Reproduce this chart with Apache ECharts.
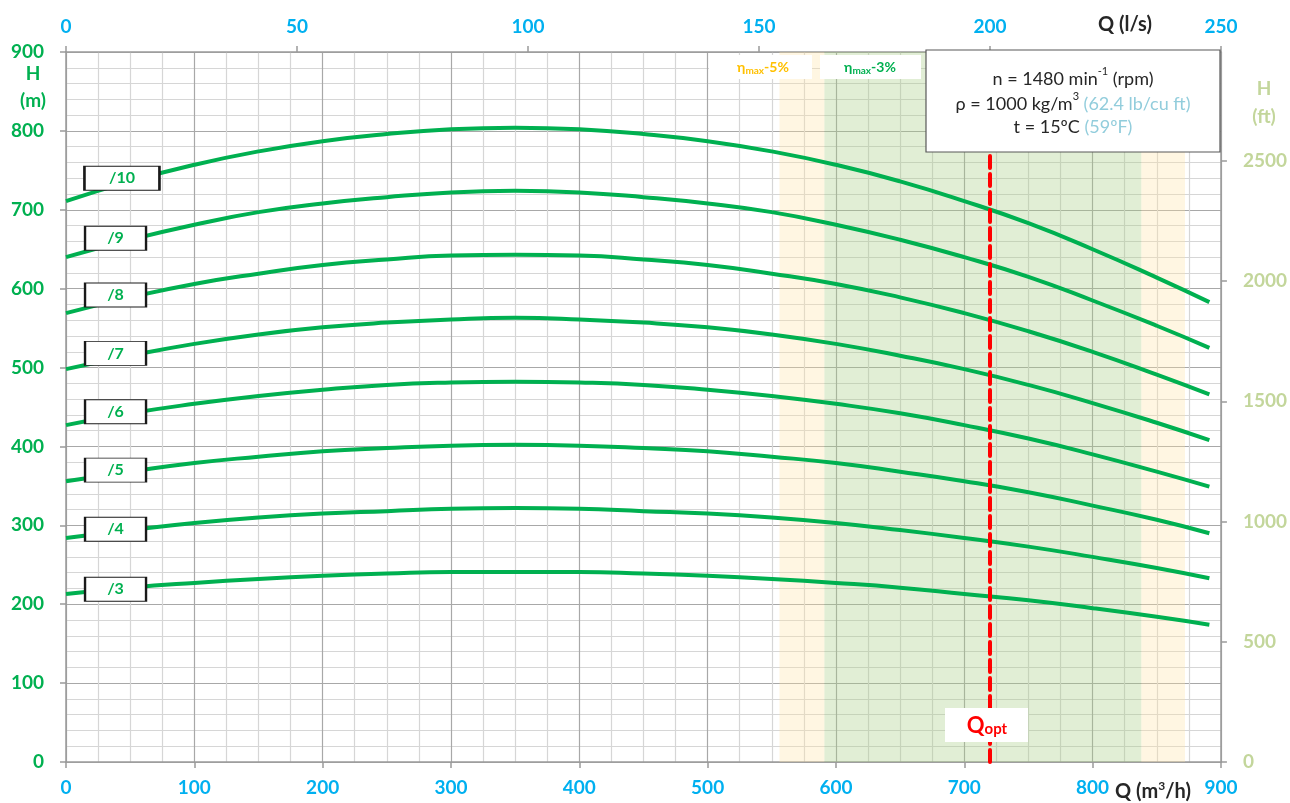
<!DOCTYPE html>
<html>
<head>
<meta charset="utf-8">
<script src="https://cdn.jsdelivr.net/npm/echarts@6/dist/echarts.min.js"></script>
<style>
  html, body { margin: 0; padding: 0; background: #fff; }
  #chart { width: 1290px; height: 803px; }
</style>
</head>
<body>
<div id="chart"></div>
<script>
var qPoints = [0, 50, 100, 150, 200, 250, 300, 350, 400, 450, 500, 550, 600, 650, 700, 750, 800, 850, 891];

var stageNames = ['/10', '/9', '/8', '/7', '/6', '/5', '/4', '/3'];

// head H (m) per stage count
var h10 = [711, 736, 757, 774, 787, 796, 802, 804, 802, 796, 787, 774, 757, 736, 711, 683, 650, 614, 583];
var h9  = [640, 662, 681, 697, 708, 716, 722, 724, 722, 716, 708, 697, 681, 662, 640, 615, 585, 553, 525];
var h8  = [569, 589, 606, 619, 630, 637, 642, 643, 642, 637, 630, 619, 606, 589, 569, 546, 520, 491, 466];
var h7  = [498, 515, 530, 542, 551, 557, 561, 563, 561, 557, 551, 542, 530, 515, 498, 478, 455, 430, 408];
var h6  = [427, 442, 454, 464, 472, 478, 481, 482, 481, 478, 472, 464, 454, 442, 427, 410, 390, 368, 349];
var h5  = [356, 368, 379, 387, 394, 398, 401, 402, 401, 398, 394, 387, 379, 368, 356, 342, 325, 307, 290];
var h4  = [284, 294, 303, 310, 315, 318, 321, 322, 321, 318, 315, 310, 303, 294, 284, 273, 260, 246, 233];
var h3  = [213, 221, 227, 232, 236, 239, 241, 241, 241, 239, 236, 232, 227, 221, 213, 205, 195, 184, 174];
var headData = [h10, h9, h8, h7, h6, h5, h4, h3];

// tick labels
var lsTicks = [0, 50, 100, 150, 200, 250];
var ftTicks = [0, 500, 1000, 1500, 2000, 2500];

// efficiency bands and optimum flow (m3/h)
var eta5Band = [556, 872];
var eta3Band = [591, 838];
var qOpt = 720;

// where the stage tags sit: [Q, H]
var tagPos = [[43.6, 740], [38.6, 664], [38.6, 592], [38.6, 518], [38.6, 444], [38.6, 370], [38.6, 295], [38.6, 219]];

var FONT = 'Lato';
var GREEN = '#00B050';
var BLUE = '#00B0F0';
var OLIVE = '#C3D69B';
var DARK = '#262626';

var chart = echarts.init(document.getElementById('chart'));

var curveSeries = headData.map(function (h, k) {
  return {
    name: stageNames[k],
    type: 'line',
    xAxisIndex: 0,
    yAxisIndex: 0,
    smooth: true,
    symbol: 'none',
    z: 4,
    lineStyle: { color: GREEN, width: 4 },
    data: qPoints.map(function (q, i) { return [q, h[i]]; }),
    markPoint: {
      symbol: 'rect',
      symbolSize: k === 0 ? [75, 24] : [61, 24],
      itemStyle: { color: '#fff', borderColor: '#1a1a1a', borderWidth: 1.5 },
      label: {
        show: true, position: 'inside', color: GREEN,
        fontFamily: FONT, fontWeight: 'bold', fontSize: 16,
        formatter: stageNames[k]
      },
      data: [{ coord: tagPos[k] }]
    }
  };
});

var bandSeries = {
  type: 'line',
  xAxisIndex: 0,
  yAxisIndex: 0,
  z: 1,
  data: [],
  markArea: {
    silent: true,
    label: { show: false },
    data: [
      [{ xAxis: eta5Band[0], itemStyle: { color: 'rgba(255,228,165,0.32)' } }, { xAxis: eta3Band[0] }],
      [{ xAxis: eta3Band[0], itemStyle: { color: 'rgba(170,205,135,0.35)' } }, { xAxis: eta3Band[1] }],
      [{ xAxis: eta3Band[1], itemStyle: { color: 'rgba(255,228,165,0.32)' } }, { xAxis: eta5Band[1] }]
    ]
  },
  markLine: {
    silent: true,
    symbol: ['none', 'none'],
    label: { show: false },
    lineStyle: { color: '#FF0000', width: 4, type: [12, 6], cap: 'round' },
    data: [{ xAxis: qOpt }]
  }
};

var axisLineStyle = { color: '#9a9a9a', width: 1.5 };
var tickStyle = { color: '#9a9a9a', width: 1.5 };
var plainNum = function (v) { return String(v); };

var option = {
  animation: false,
  grid: { left: 66, right: 69, top: 52, bottom: 41, containLabel: false },
  xAxis: [
    {
      type: 'value', position: 'bottom', min: 0, max: 900, interval: 100,
      axisLine: { show: true, onZero: false, lineStyle: axisLineStyle },
      axisTick: { show: true, length: 6, lineStyle: tickStyle },
      axisLabel: { color: BLUE, fontFamily: FONT, fontWeight: 'bold', fontSize: 19, margin: 16, formatter: plainNum },
      splitLine: { show: true, lineStyle: { color: '#a8a8a8', width: 1.2 } },
      minorTick: { show: false, splitNumber: 4 },
      minorSplitLine: { show: true, lineStyle: { color: '#d6d6d6', width: 1.2 } }
    },
    {
      type: 'value', position: 'top', min: 0, max: 250, interval: 50,
      axisLine: { show: true, onZero: false, lineStyle: axisLineStyle },
      axisTick: { show: true, length: 6, lineStyle: tickStyle },
      axisLabel: { color: BLUE, fontFamily: FONT, fontWeight: 'bold', fontSize: 19, margin: 16, formatter: plainNum },
      splitLine: { show: false }
    }
  ],
  yAxis: [
    {
      type: 'value', position: 'left', min: 0, max: 900, interval: 100,
      axisLine: { show: true, onZero: false, lineStyle: axisLineStyle },
      axisTick: { show: true, length: 6, lineStyle: tickStyle },
      axisLabel: { color: GREEN, fontFamily: FONT, fontWeight: 'bold', fontSize: 19, margin: 22, formatter: plainNum },
      splitLine: { show: true, lineStyle: { color: '#a8a8a8', width: 1.2 } },
      minorTick: { show: false, splitNumber: 5 },
      minorSplitLine: { show: true, lineStyle: { color: '#d6d6d6', width: 1.2 } }
    },
    {
      type: 'value', position: 'right', min: 0, max: 900 / 0.3048, interval: 500,
      alignTicks: false,
      axisLine: { show: true, onZero: false, lineStyle: axisLineStyle },
      axisTick: { show: true, length: 6, lineStyle: tickStyle },
      axisLabel: {
        color: OLIVE, fontFamily: FONT, fontWeight: 'bold', fontSize: 19, margin: 22,
        showMaxLabel: false,
        formatter: function (v) { return ftTicks.indexOf(v) >= 0 ? String(v) : ''; }
      },
      splitLine: { show: false }
    }
  ],
  graphic: [
    // axis titles
    { type: 'text', x: 33, y: 74, z: 10, style: { text: 'H', fill: GREEN, font: 'bold 19px ' + FONT, align: 'center', verticalAlign: 'middle' } },
    { type: 'text', x: 33, y: 101, z: 10, style: { text: '(m)', fill: GREEN, font: 'bold 19px ' + FONT, align: 'center', verticalAlign: 'middle' } },
    { type: 'text', x: 1264, y: 89, z: 10, style: { text: 'H', fill: OLIVE, font: 'bold 19px ' + FONT, align: 'center', verticalAlign: 'middle' } },
    { type: 'text', x: 1264, y: 117, z: 10, style: { text: '(ft)', fill: OLIVE, font: 'bold 19px ' + FONT, align: 'center', verticalAlign: 'middle' } },
    { type: 'text', x: 1125, y: 25, z: 10, style: { text: 'Q (l/s)', fill: DARK, font: 'bold 20px ' + FONT, align: 'center', verticalAlign: 'middle' } },
    {
      type: 'text', x: 1153, y: 791, z: 10,
      style: {
        text: '{a|Q (m}{s|3}{a|/h)}', align: 'center', verticalAlign: 'middle',
        rich: {
          a: { fill: DARK, fontFamily: FONT, fontWeight: 'bold', fontSize: 20, lineHeight: 22, verticalAlign: 'bottom' },
          s: { fill: DARK, fontFamily: FONT, fontWeight: 'bold', fontSize: 12, lineHeight: 14, verticalAlign: 'top' }
        }
      }
    },
    // efficiency band tags
    { type: 'rect', z: 10, shape: { x: 709, y: 55, width: 103, height: 24 }, style: { fill: '#fff' } },
    { type: 'rect', z: 10, shape: { x: 820, y: 55, width: 101, height: 24 }, style: { fill: '#fff' } },
    {
      type: 'text', x: 763, y: 68, z: 11,
      style: {
        text: '{a|η}{s|max}{a|-5%}', align: 'center', verticalAlign: 'middle',
        rich: {
          a: { fill: '#FFC000', fontFamily: FONT, fontWeight: 'bold', fontSize: 14, lineHeight: 16, verticalAlign: 'top' },
          s: { fill: '#FFC000', fontFamily: FONT, fontWeight: 'bold', fontSize: 10, lineHeight: 10, padding: [8, 0, 0, 0], verticalAlign: 'bottom' }
        }
      }
    },
    {
      type: 'text', x: 870, y: 68, z: 11,
      style: {
        text: '{a|η}{s|max}{a|-3%}', align: 'center', verticalAlign: 'middle',
        rich: {
          a: { fill: GREEN, fontFamily: FONT, fontWeight: 'bold', fontSize: 14, lineHeight: 16, verticalAlign: 'top' },
          s: { fill: GREEN, fontFamily: FONT, fontWeight: 'bold', fontSize: 10, lineHeight: 10, padding: [8, 0, 0, 0], verticalAlign: 'bottom' }
        }
      }
    },
    // Qopt tag
    { type: 'rect', z: 10, shape: { x: 945, y: 708, width: 83, height: 34 }, style: { fill: '#fff' } },
    {
      type: 'text', x: 987, y: 726, z: 11,
      style: {
        text: '{a|Q}{s|opt}', align: 'center', verticalAlign: 'middle',
        rich: {
          a: { fill: '#FF0000', fontFamily: FONT, fontWeight: 'bold', fontSize: 22, lineHeight: 22, verticalAlign: 'top' },
          s: { fill: '#FF0000', fontFamily: FONT, fontWeight: 'bold', fontSize: 15, lineHeight: 14, padding: [10, 0, 0, 0], verticalAlign: 'bottom' }
        }
      }
    },
    // operating conditions box
    { type: 'rect', z: 10, shape: { x: 926, y: 50, width: 294, height: 102 }, style: { fill: '#fff', stroke: '#595959', lineWidth: 1.2 } },
    {
      type: 'text', x: 1073, y: 77, z: 11,
      style: {
        text: '{a|n = 1480 min}{s|-1}{a| (rpm)}', align: 'center', verticalAlign: 'middle',
        rich: {
          a: { fill: DARK, fontFamily: FONT, fontSize: 18, lineHeight: 22, verticalAlign: 'bottom' },
          s: { fill: DARK, fontFamily: FONT, fontSize: 11, lineHeight: 12, verticalAlign: 'top' }
        }
      }
    },
    {
      type: 'text', x: 1073, y: 102, z: 11,
      style: {
        text: '{a|ρ = 1000 kg/m}{s|3}{b| (62.4 lb/cu ft)}', align: 'center', verticalAlign: 'middle',
        rich: {
          a: { fill: DARK, fontFamily: FONT, fontSize: 18, lineHeight: 22, verticalAlign: 'bottom' },
          s: { fill: DARK, fontFamily: FONT, fontSize: 11, lineHeight: 12, verticalAlign: 'top' },
          b: { fill: '#92CDDC', fontFamily: FONT, fontSize: 18, lineHeight: 22, verticalAlign: 'bottom' }
        }
      }
    },
    {
      type: 'text', x: 1073, y: 127, z: 11,
      style: {
        text: '{a|t = 15ºC}{b| (59ºF)}', align: 'center', verticalAlign: 'middle',
        rich: {
          a: { fill: DARK, fontFamily: FONT, fontSize: 18, lineHeight: 22 },
          b: { fill: '#92CDDC', fontFamily: FONT, fontSize: 18, lineHeight: 22 }
        }
      }
    }
  ],
  series: [bandSeries].concat(curveSeries)
};

chart.setOption(option);
</script>
</body>
</html>
